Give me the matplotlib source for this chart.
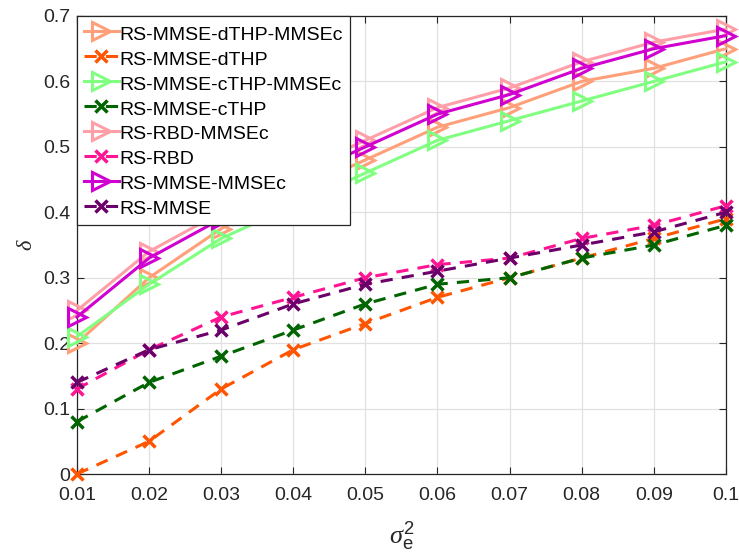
import matplotlib
matplotlib.use("Agg")
import matplotlib.pyplot as plt

plt.rcParams['font.family'] = ['Liberation Sans', 'DejaVu Sans']
plt.rcParams['mathtext.fontset'] = 'custom'
plt.rcParams['mathtext.it'] = 'Liberation Serif:italic'
plt.rcParams['mathtext.rm'] = 'Liberation Sans'

x = [0.01, 0.02, 0.03, 0.04, 0.05, 0.06, 0.07, 0.08, 0.09, 0.1]

dthp_mmsec = [0.20, 0.30, 0.375, 0.43, 0.48, 0.53, 0.56, 0.60, 0.62, 0.65]
dthp = [0.00, 0.05, 0.13, 0.19, 0.23, 0.27, 0.30, 0.33, 0.36, 0.39]
cthp_mmsec = [0.21, 0.29, 0.36, 0.41, 0.46, 0.51, 0.54, 0.57, 0.60, 0.63]
cthp = [0.08, 0.14, 0.18, 0.22, 0.26, 0.29, 0.30, 0.33, 0.35, 0.38]
rbd_mmsec = [0.25, 0.34, 0.40, 0.46, 0.51, 0.56, 0.59, 0.63, 0.66, 0.68]
rbd = [0.13, 0.19, 0.24, 0.27, 0.30, 0.32, 0.33, 0.36, 0.38, 0.41]
mmse_mmsec = [0.24, 0.33, 0.39, 0.45, 0.50, 0.55, 0.58, 0.62, 0.65, 0.67]
mmse = [0.14, 0.19, 0.22, 0.26, 0.29, 0.31, 0.33, 0.35, 0.37, 0.40]

labels = ['RS-MMSE-dTHP-MMSEc', 'RS-MMSE-dTHP', 'RS-MMSE-cTHP-MMSEc', 'RS-MMSE-cTHP',
          'RS-RBD-MMSEc', 'RS-RBD', 'RS-MMSE-MMSEc', 'RS-MMSE']
series = [dthp_mmsec, dthp, cthp_mmsec, cthp, rbd_mmsec, rbd, mmse_mmsec, mmse]
colors = ['#FFA07A', '#FF5500', '#80FF80', '#006400', '#FFA0A8', '#FF1493', '#D000D0', '#6B006B']

xticks = [0.01, 0.02, 0.03, 0.04, 0.05, 0.06, 0.07, 0.08, 0.09, 0.1]
xticklabels = ['0.01', '0.02', '0.03', '0.04', '0.05', '0.06', '0.07', '0.08', '0.09', '0.1']
yticks = [0, 0.1, 0.2, 0.3, 0.4, 0.5, 0.6, 0.7]
yticklabels = ['0', '0.1', '0.2', '0.3', '0.4', '0.5', '0.6', '0.7']

fig = plt.figure(figsize=(7.39, 5.57), dpi=100)
ax = fig.add_axes([0.1042, 0.149, 0.878, 0.8223])

for i, (ys, lab, c) in enumerate(zip(series, labels, colors)):
    if i % 2 == 0:
        ax.plot(x, ys, '-', color=c, lw=2.2, marker='>', ms=13, mfc='none',
                mec=c, mew=2.2, label=lab, clip_on=False, zorder=3)
    else:
        ax.plot(x, ys, '--', color=c, lw=2.2, marker='x', ms=8.5,
                mec=c, mew=2.5, label=lab, clip_on=False, zorder=3, dashes=(4, 3))

ax.set_xlim(0.01, 0.1)
ax.set_ylim(0, 0.7)
ax.set_xticks(xticks)
ax.set_xticklabels(xticklabels)
ax.set_yticks(yticks)
ax.set_yticklabels(yticklabels)
ax.tick_params(direction='in', top=True, right=True, labelsize=14, length=5, color='#262626',
               labelcolor='#262626')
ax.tick_params(axis='x', pad=9)
ax.tick_params(axis='y', pad=5)
ax.grid(True, color='#E0E0E0', lw=0.9)
ax.set_axisbelow(True)
for s in ax.spines.values():
    s.set_color('#262626')
    s.set_linewidth(0.9)

ax.set_xlabel(r'$\sigma_\mathrm{e}^2$', fontsize=19, labelpad=12, color='#262626')
ax.set_ylabel(r'$\delta$', fontsize=16, labelpad=4, color='#262626')

leg = ax.legend(loc='upper left', fontsize=14, frameon=True, fancybox=False,
                edgecolor='#262626', framealpha=1, borderaxespad=0.0,
                handlelength=1.8, handleheight=1.3, labelspacing=0.19,
                borderpad=0.35, handletextpad=0.05)
leg.get_frame().set_linewidth(0.9)

fig.savefig('out.png', dpi=100)
